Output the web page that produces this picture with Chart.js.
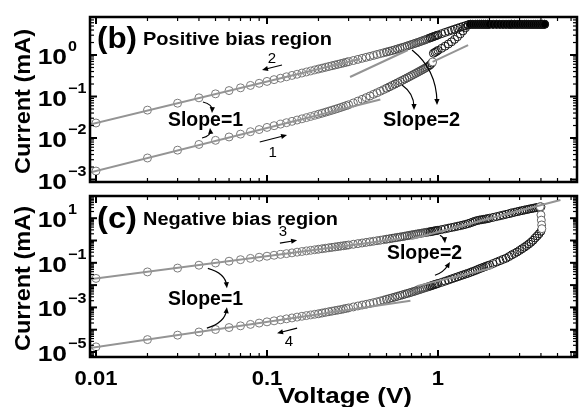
<!DOCTYPE html>
<html>
<head>
<meta charset="utf-8">
<script src="https://cdn.jsdelivr.net/npm/chart.js@4.4.1/dist/chart.umd.min.js"></script>
<style>
  html, body { margin: 0; padding: 0; background: #fff; }
  #wrap { position: relative; width: 583px; height: 407px; }
  canvas { position: absolute; left: 0; top: 0; }
</style>
</head>
<body>
<div id="wrap">
  <canvas id="panelB" width="583" height="407"></canvas>
  <canvas id="panelC" width="583" height="407"></canvas>
</div>
<script>
// voltage grid (V), shared by all sweeps
const vLow = [0.01,0.02,0.03,0.04,0.05,0.06,0.07,0.08,0.09,0.10,
  0.11,0.12,0.13,0.14,0.15,0.16,0.17,0.18,0.19,0.20,
  0.21,0.22,0.23,0.24,0.25,0.26,0.27,0.28,0.29,0.30,
  0.32,0.34,0.36,0.38,0.40,0.42,0.44,0.46,0.48,0.50,
  0.52,0.54,0.56,0.58,0.60,0.62,0.64,0.66,0.68,0.70,
  0.72,0.74,0.76,0.78,0.80,0.82,0.84,0.86,0.88,0.90,
  0.92,0.94,0.96,0.98,1.00];
const vHigh = [1.05,1.10,1.15,1.20,1.25,1.30,1.35,1.40,1.45,1.50,
  1.55,1.60,1.65,1.70,1.75,1.80,1.85,1.90,1.95,2.00,
  2.1,2.2,2.3,2.4,2.5,2.6,2.7,2.8,2.9,3.0,
  3.1,3.2,3.3,3.4,3.5,3.6,3.7,3.8,3.9,4.0,
  4.1,4.2];

// (b) positive bias, current in mA
const sweep1 = [0.0016,0.0033,0.0051,0.0070,0.0088,0.0106,0.0124,0.0142,0.0160,0.0180,
  0.0198,0.0216,0.0234,0.0252,0.0271,0.0290,0.0310,0.0331,0.0352,0.0374,
  0.0396,0.0419,0.0443,0.0467,0.0492,0.0518,0.0545,0.0573,0.0602,0.0632,
  0.0700,0.0775,0.0855,0.0940,0.103,0.113,0.123,0.134,0.146,0.158,
  0.171,0.185,0.199,0.214,0.230,0.246,0.263,0.281,0.300,0.320,
  0.340,0.361,0.383,0.406,0.430,0.455,0.481,0.508,0.540,0.580,
  0.640,1.10,1.16,1.22,1.29,
  1.45,1.63,1.84,2.08,2.38,2.75,3.22,3.80,4.55,5.30,
  5.50,5.50,5.50,5.50,5.50,5.50,5.50,5.50,5.50,5.50,
  5.50,5.50,5.50,5.50,5.50,5.50,5.50,5.50,5.50,5.50,
  5.50,5.50,5.50,5.50,5.50,5.50,5.50,5.50,5.50,5.50,
  5.50,5.50];
const sweep2 = [0.023,0.047,0.069,0.093,0.116,0.139,0.162,0.185,0.208,0.231,
  0.255,0.276,0.299,0.322,0.344,0.368,0.390,0.413,0.437,0.460,
  0.482,0.505,0.529,0.552,0.575,0.597,0.621,0.644,0.667,0.690,
  0.737,0.784,0.832,0.880,0.928,0.977,1.03,1.08,1.13,1.18,
  1.23,1.28,1.34,1.40,1.46,1.52,1.58,1.65,1.72,1.79,
  1.86,1.93,2.00,2.08,2.16,2.24,2.32,2.41,2.50,2.59,
  2.68,2.77,2.86,2.95,3.04,
  3.27,3.50,3.73,3.96,4.19,4.42,4.65,4.88,5.11,5.34,
  5.48,5.50,5.50,5.50,5.50,5.50,5.50,5.50,5.50,5.50,
  5.50,5.50,5.50,5.50,5.50,5.50,5.50,5.50,5.50,5.50,
  5.50,5.50,5.50,5.50,5.50,5.50,5.50,5.50,5.50,5.50,
  5.50,5.50];
const setV = [0.93];
const setI = [0.68];

// (c) negative bias, |current| in mA
const sweep3 = [0.020,0.039,0.058,0.078,0.098,0.118,0.138,0.158,0.178,0.198,
  0.218,0.238,0.258,0.279,0.300,0.321,0.342,0.363,0.384,0.405,
  0.427,0.449,0.471,0.493,0.515,0.538,0.561,0.584,0.607,0.630,
  0.677,0.725,0.774,0.824,0.875,0.927,0.980,1.03,1.09,1.14,
  1.20,1.26,1.32,1.38,1.44,1.50,1.57,1.64,1.71,1.78,
  1.85,1.92,1.99,2.06,2.13,2.20,2.27,2.34,2.41,2.48,
  2.56,2.64,2.72,2.80,2.89,
  3.10,3.33,3.57,3.82,4.08,4.35,4.64,4.95,5.30,5.70,
  6.20,6.80,7.40,7.90,8.30,8.60,8.90,9.20,9.60,10.0,
  10.9,11.8,12.8,13.8,14.9,16.0,17.2,18.4,19.6,20.8,
  22.0,23.2,24.4,25.6,26.8,28.0,29.2,30.4,31.5,32.5,
  null,null];
const sweep4 = [1.7e-5,3.6e-5,5.7e-5,7.9e-5,1.02e-4,1.25e-4,1.49e-4,1.73e-4,1.98e-4,2.25e-4,
  2.50e-4,2.78e-4,3.07e-4,3.37e-4,3.68e-4,4.00e-4,4.30e-4,4.60e-4,4.90e-4,5.20e-4,
  5.60e-4,6.00e-4,6.40e-4,6.80e-4,7.20e-4,7.60e-4,8.00e-4,8.50e-4,9.00e-4,9.50e-4,
  1.05e-3,1.16e-3,1.27e-3,1.38e-3,1.50e-3,1.64e-3,1.78e-3,1.94e-3,2.12e-3,2.30e-3,
  2.50e-3,2.70e-3,2.92e-3,3.15e-3,3.40e-3,3.66e-3,3.93e-3,4.21e-3,4.50e-3,4.80e-3,
  5.15e-3,5.50e-3,5.90e-3,6.30e-3,6.70e-3,7.14e-3,7.60e-3,8.05e-3,8.50e-3,9.00e-3,
  9.55e-3,0.0101,0.0107,0.0112,0.0118,
  0.0133,0.0150,0.0169,0.0190,0.0212,0.0235,0.0260,0.0286,0.0313,0.0340,
  0.0375,0.0410,0.0450,0.0495,0.0545,0.0590,0.0640,0.0690,0.0745,0.0800,
  0.093,0.108,0.124,0.142,0.160,0.190,0.225,0.262,0.305,0.360,
  0.425,0.500,0.590,0.700,0.840,1.02,1.30,1.60,2.00,2.60,
  null,null];
const resetV = [3.96,4.00,4.02,4.04,4.05];
const resetI = [32.5,14.0,8.2,5.0,3.4];

// guide lines, [V, I] end points
const fitB = [
  [[0.0092,0.00147],[0.46,0.085]],
  [[0.0092,0.021],[0.35,0.80]],
  [[0.306,0.295],[0.667,1.32]],
  [[0.93,0.68],[1.5,1.74]]
];
const fitC = [
  [[0.0092,0.0184],[0.6,1.2]],
  [[0.0092,1.5e-5],[0.69,2.0e-3]],
  [[0.7,1.17],[5.2,65]],
  [[0.75,0.009],[2.1,0.06]]
];

// axes
const xRange = [0.009224, 6.50];
const yRangeB = [8.71e-4, 8.24];
const yRangeC = [5.97e-6, 99.1];
const yExpB = [0, -1, -2, -3];
const yExpC = [1, -1, -3, -5];
const xTickVals = [0.01, 0.1, 1];
const xTickText = ['0.01', '0.1', '1'];

const FONT = '"Liberation Sans", Arial, sans-serif';
const vAll = vLow.concat(vHigh);

function pts(vs, is) {
  return vs.map((v, k) => ({ x: v, y: is[k] })).filter(p => p.y != null);
}

function shade(c) {
  const v = c.raw ? c.raw.x : 0;
  if (v < 0.2) return '#7b7b7b';
  if (v < 0.5) return '#666666';
  if (v < 0.9) return '#474747';
  return '#161616';
}
// compliance plateau in (b) reads as a solid black band
function plateauFill(c) {
  return c.raw && c.raw.x >= 1.55 ? '#000' : 'rgba(0,0,0,0)';
}

function sweepSet(data, fill) {
  return {
    data: data, pointRadius: 4, pointBorderWidth: 1,
    pointBackgroundColor: fill || 'rgba(0,0,0,0)', pointBorderColor: shade, order: 3
  };
}
function whiteSet(data) {
  return {
    data: data, pointRadius: 4, pointBorderWidth: 1,
    pointBackgroundColor: '#fff', pointBorderColor: '#666', order: 2
  };
}
function fitSet(seg) {
  return {
    data: seg.map(p => ({ x: p[0], y: p[1] })), showLine: true,
    borderColor: '#949494', borderWidth: 2, pointRadius: 0, order: 1
  };
}

// text helper: x,y is the anchor; width (if given) stretches the text to fit
function text(ctx, s, x, y, o) {
  ctx.save();
  ctx.font = (o.bold === false ? '' : 'bold ') + o.size + 'px ' + FONT;
  ctx.textAlign = o.align || 'left';
  ctx.textBaseline = o.base || 'alphabetic';
  const sx = o.width ? o.width / ctx.measureText(s).width : (o.sx || 1);
  ctx.translate(x, y);
  if (o.rot) ctx.rotate(o.rot);
  ctx.scale(sx, 1);
  ctx.fillText(s, 0, 0);
  ctx.restore();
}

function seg(ctx, x0, y0, x1, y1, w) {
  ctx.lineWidth = w;
  ctx.beginPath(); ctx.moveTo(x0, y0); ctx.lineTo(x1, y1); ctx.stroke();
}

function arrow(ctx, p0, p1, bend) {
  const c = { x: (p0.x + p1.x) / 2 + bend[0], y: (p0.y + p1.y) / 2 + bend[1] };
  const ang = Math.atan2(p1.y - c.y, p1.x - c.x);
  const L = 6, W = 2.6;
  ctx.lineWidth = 1.2;
  ctx.beginPath();
  ctx.moveTo(p0.x, p0.y);
  ctx.quadraticCurveTo(c.x, c.y, p1.x - 3 * Math.cos(ang), p1.y - 3 * Math.sin(ang));
  ctx.stroke();
  ctx.beginPath();
  ctx.moveTo(p1.x, p1.y);
  ctx.lineTo(p1.x - L * Math.cos(ang) + W * Math.sin(ang), p1.y - L * Math.sin(ang) - W * Math.cos(ang));
  ctx.lineTo(p1.x - L * Math.cos(ang) - W * Math.sin(ang), p1.y - L * Math.sin(ang) + W * Math.cos(ang));
  ctx.closePath();
  ctx.fill();
}

function logTicks(min, max) {
  const out = [];
  for (let d = Math.floor(Math.log10(min)); d <= Math.ceil(Math.log10(max)); d++) {
    for (let m = 1; m <= 9; m++) {
      const v = m * Math.pow(10, d);
      if (v >= min * 0.999 && v <= max * 1.001) out.push({ v: v, major: m === 1 });
    }
  }
  return out;
}

const deco = {
  panelB: {
    yExp: yExpB, title: ['(b)', 'Positive bias region'], titleY: [48, 45], titleW: [40, 189],
    arrows: [
      { from: [0.1224, 0.574], to: [0.0935, 0.435], bend: [0, 0] },
      { from: [0.0907, 0.0080], to: [0.131, 0.0118], bend: [0, 0] },
      { from: [0.0422, 0.0738], to: [0.0477, 0.040], bend: [5, -3] },
      { from: [0.0417, 0.010], to: [0.0464, 0.0175], bend: [5, 3] },
      { from: [0.616, 0.189], to: [0.724, 0.0472], bend: [6, -4] },
      { from: [0.705, 1.32], to: [0.987, 0.0623], bend: [12, -8] }
    ],
    texts: [
      { s: 'Slope=1', at: [0.0437, 0.0195], size: 20, width: 75 },
      { s: 'Slope=2', at: [0.801, 0.0195], size: 20, width: 77 },
      { s: '2', at: [0.107, 0.801], size: 15, bold: false, base: 'middle' },
      { s: '1', at: [0.108, 0.00435], size: 15, bold: false, base: 'middle' }
    ]
  },
  panelC: {
    yExp: yExpC, title: ['(c)', 'Negative bias region'], titleY: [228, 225], titleW: [40, 195],
    xLabels: true,
    arrows: [
      { from: [0.119, 0.757], to: [0.150, 1.03], bend: [0, 0] },
      { from: [0.150, 1.17e-4], to: [0.1145, 6.97e-5], bend: [0, 0] },
      { from: [0.0451, 0.0566], to: [0.0583, 7.2e-3], bend: [8, -5] },
      { from: [0.0445, 1.17e-4], to: [0.0583, 1.02e-3], bend: [8, 5] },
      { from: [1.027, 1.73], to: [1.099, 0.757], bend: [2, -1] },
      { from: [0.96, 0.0278], to: [1.175, 0.11], bend: [1, 4] }
    ],
    texts: [
      { s: 'Slope=1', at: [0.0437, 1.26e-3], size: 20, width: 75 },
      { s: 'Slope=2', at: [0.834, 0.145], size: 20, width: 75 },
      { s: '3', at: [0.124, 2.36], size: 15, bold: false, base: 'middle' },
      { s: '4', at: [0.1345, 2.75e-5], size: 15, bold: false, base: 'middle' }
    ]
  }
};

const decorPlugin = {
  id: 'decor',
  afterDraw(chart) {
    const d = deco[chart.canvas.id];
    const ctx = chart.ctx, a = chart.chartArea, xs = chart.scales.x, ys = chart.scales.y;
    const px = (p) => ({ x: xs.getPixelForValue(p[0]), y: ys.getPixelForValue(p[1]) });
    ctx.save();
    ctx.fillStyle = '#000';
    ctx.strokeStyle = '#000';

    logTicks(xs.min, xs.max).forEach(t => {
      const p = xs.getPixelForValue(t.v), len = t.major ? 7 : 4, w = t.major ? 2 : 1.2;
      seg(ctx, p, a.bottom, p, a.bottom - len, w);
      seg(ctx, p, a.top, p, a.top + len, w);
    });
    logTicks(ys.min, ys.max).forEach(t => {
      const p = ys.getPixelForValue(t.v), len = t.major ? 7 : 4, w = t.major ? 2 : 1.2;
      seg(ctx, a.left, p, a.left + len, p, w);
      seg(ctx, a.right, p, a.right - len, p, w);
    });
    ctx.lineWidth = 2.5;
    ctx.strokeRect(a.left, a.top, a.right - a.left, a.bottom - a.top);

    d.yExp.forEach(e => {
      const p = ys.getPixelForValue(Math.pow(10, e));
      text(ctx, '10', 67, p + 9, { size: 22, sx: 1.2, align: 'right' });
      text(ctx, String(e).replace('-', '\u2212'), 68, p - 4, { size: 14, sx: 1.15 });
    });
    if (d.xLabels) {
      xTickVals.forEach((v, k) => {
        text(ctx, xTickText[k], xs.getPixelForValue(v), 385, { size: 21, sx: 1.05, align: 'center' });
      });
      text(ctx, 'Voltage (V)', 345, 403, { size: 22, width: 134, align: 'center' });
    }
    text(ctx, 'Current (mA)', 30, (a.top + a.bottom) / 2 + 2,
      { size: 22, width: 145, align: 'center', rot: -Math.PI / 2 });

    text(ctx, d.title[0], 97, d.titleY[0], { size: 29, width: d.titleW[0] });
    text(ctx, d.title[1], 143, d.titleY[1], { size: 18, width: d.titleW[1] });

    d.arrows.forEach(r => arrow(ctx, px(r.from), px(r.to), r.bend));
    d.texts.forEach(t => {
      const p = px(t.at);
      text(ctx, t.s, p.x, p.y, { size: t.size, width: t.width, bold: t.bold, base: t.base, align: 'center' });
    });
    ctx.restore();
  }
};

function makePanel(id, datasets, yRange, padding) {
  return new Chart(document.getElementById(id), {
    type: 'scatter',
    data: { datasets: datasets },
    options: {
      responsive: false,
      animation: false,
      devicePixelRatio: 1,
      events: [],
      layout: { padding: padding },
      plugins: { legend: { display: false }, tooltip: { enabled: false } },
      scales: {
        x: { type: 'logarithmic', min: xRange[0], max: xRange[1], display: false },
        y: { type: 'logarithmic', min: yRange[0], max: yRange[1], display: false }
      }
    },
    plugins: [decorPlugin]
  });
}

makePanel('panelB', [
  sweepSet(pts(vAll, sweep1), plateauFill),
  sweepSet(pts(vAll, sweep2), plateauFill),
  whiteSet(pts(setV, setI))
].concat(fitB.map(fitSet)), yRangeB, { left: 90, top: 17, right: 6, bottom: 225 });

makePanel('panelC', [
  sweepSet(pts(vAll, sweep3)),
  sweepSet(pts(vAll, sweep4)),
  whiteSet(pts(resetV, resetI))
].concat(fitC.map(fitSet)), yRangeC, { left: 90, top: 196, right: 6, bottom: 50 });
</script>
</body>
</html>
